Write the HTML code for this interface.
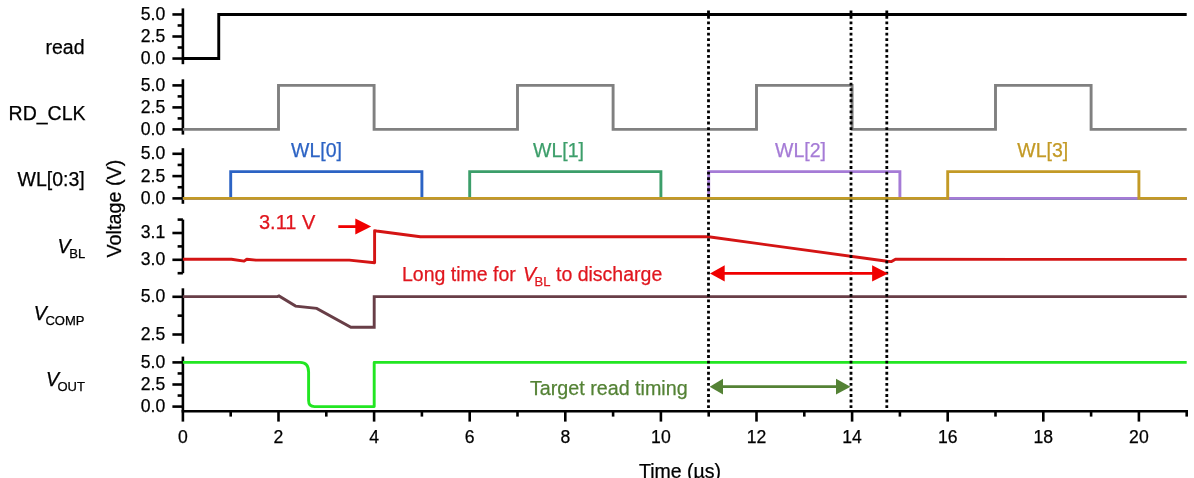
<!DOCTYPE html>
<html><head><meta charset="utf-8"><style>
html,body{margin:0;padding:0;background:#fff;}
body{width:1194px;height:478px;overflow:hidden;}
svg{display:block;will-change:transform;}
text{font-family:"Liberation Sans",sans-serif;}
</style></head><body>
<svg width="1194" height="478" viewBox="0 0 1194 478">
<rect width="1194" height="478" fill="#fff"/>
<g stroke="#000" stroke-width="2.6" stroke-linecap="butt">
<line x1="182.90" y1="8.40" x2="182.90" y2="64.20"/>
<line x1="172.40" y1="14.45" x2="182.90" y2="14.45"/>
<line x1="172.40" y1="36.50" x2="182.90" y2="36.50"/>
<line x1="172.40" y1="58.55" x2="182.90" y2="58.55"/>
<line x1="177.60" y1="25.48" x2="182.90" y2="25.48"/>
<line x1="177.60" y1="47.52" x2="182.90" y2="47.52"/>
<line x1="182.90" y1="79.30" x2="182.90" y2="134.60"/>
<line x1="172.40" y1="85.40" x2="182.90" y2="85.40"/>
<line x1="172.40" y1="107.40" x2="182.90" y2="107.40"/>
<line x1="172.40" y1="129.40" x2="182.90" y2="129.40"/>
<line x1="177.60" y1="96.40" x2="182.90" y2="96.40"/>
<line x1="177.60" y1="118.40" x2="182.90" y2="118.40"/>
<line x1="182.90" y1="148.20" x2="182.90" y2="203.80"/>
<line x1="172.40" y1="153.80" x2="182.90" y2="153.80"/>
<line x1="172.40" y1="176.10" x2="182.90" y2="176.10"/>
<line x1="172.40" y1="198.40" x2="182.90" y2="198.40"/>
<line x1="177.60" y1="164.95" x2="182.90" y2="164.95"/>
<line x1="177.60" y1="187.25" x2="182.90" y2="187.25"/>
<line x1="182.90" y1="219.60" x2="182.90" y2="273.20"/>
<line x1="172.40" y1="233.00" x2="182.90" y2="233.00"/>
<line x1="172.40" y1="259.80" x2="182.90" y2="259.80"/>
<line x1="177.60" y1="219.60" x2="182.90" y2="219.60"/>
<line x1="177.60" y1="246.40" x2="182.90" y2="246.40"/>
<line x1="177.60" y1="273.20" x2="182.90" y2="273.20"/>
<line x1="182.90" y1="288.30" x2="182.90" y2="343.70"/>
<line x1="172.40" y1="296.80" x2="182.90" y2="296.80"/>
<line x1="172.40" y1="334.50" x2="182.90" y2="334.50"/>
<line x1="177.60" y1="315.65" x2="182.90" y2="315.65"/>
<line x1="182.90" y1="356.60" x2="182.90" y2="411.30"/>
<line x1="172.40" y1="362.40" x2="182.90" y2="362.40"/>
<line x1="172.40" y1="384.50" x2="182.90" y2="384.50"/>
<line x1="172.40" y1="406.60" x2="182.90" y2="406.60"/>
<line x1="177.60" y1="373.45" x2="182.90" y2="373.45"/>
<line x1="177.60" y1="395.55" x2="182.90" y2="395.55"/>
<line x1="181.60" y1="411.3" x2="1188.00" y2="411.3"/>
<line x1="182.90" y1="411.3" x2="182.90" y2="421.60"/>
<line x1="230.70" y1="411.3" x2="230.70" y2="416.60"/>
<line x1="278.50" y1="411.3" x2="278.50" y2="421.60"/>
<line x1="326.30" y1="411.3" x2="326.30" y2="416.60"/>
<line x1="374.10" y1="411.3" x2="374.10" y2="421.60"/>
<line x1="421.90" y1="411.3" x2="421.90" y2="416.60"/>
<line x1="469.70" y1="411.3" x2="469.70" y2="421.60"/>
<line x1="517.50" y1="411.3" x2="517.50" y2="416.60"/>
<line x1="565.30" y1="411.3" x2="565.30" y2="421.60"/>
<line x1="613.10" y1="411.3" x2="613.10" y2="416.60"/>
<line x1="660.90" y1="411.3" x2="660.90" y2="421.60"/>
<line x1="708.70" y1="411.3" x2="708.70" y2="416.60"/>
<line x1="756.50" y1="411.3" x2="756.50" y2="421.60"/>
<line x1="804.30" y1="411.3" x2="804.30" y2="416.60"/>
<line x1="852.10" y1="411.3" x2="852.10" y2="421.60"/>
<line x1="899.90" y1="411.3" x2="899.90" y2="416.60"/>
<line x1="947.70" y1="411.3" x2="947.70" y2="421.60"/>
<line x1="995.50" y1="411.3" x2="995.50" y2="416.60"/>
<line x1="1043.30" y1="411.3" x2="1043.30" y2="421.60"/>
<line x1="1091.10" y1="411.3" x2="1091.10" y2="416.60"/>
<line x1="1138.90" y1="411.3" x2="1138.90" y2="421.60"/>
<line x1="1186.70" y1="411.3" x2="1186.70" y2="416.60"/>
</g>
<g>
<polyline points="182.90,58.55 218.75,58.55 218.75,14.45 1186.70,14.45" fill="none" stroke="#000000" stroke-width="2.9" stroke-linejoin="miter" stroke-miterlimit="10" />
<polyline points="182.90,129.40 278.50,129.40 278.50,85.40 374.10,85.40 374.10,129.40 517.50,129.40 517.50,85.40 613.10,85.40 613.10,129.40 756.50,129.40 756.50,85.40 852.10,85.40 852.10,129.40 995.50,129.40 995.50,85.40 1091.10,85.40 1091.10,129.40 1186.70,129.40" fill="none" stroke="#808080" stroke-width="2.9" stroke-linejoin="miter" stroke-miterlimit="10" />
<polyline points="182.90,198.40 230.70,198.40 230.70,171.64 421.90,171.64 421.90,198.40 1186.70,198.40" fill="none" stroke="#2C63C4" stroke-width="2.9" stroke-linejoin="miter" stroke-miterlimit="10" />
<polyline points="182.90,198.40 469.70,198.40 469.70,171.64 660.90,171.64 660.90,198.40 1186.70,198.40" fill="none" stroke="#3C9E6A" stroke-width="2.9" stroke-linejoin="miter" stroke-miterlimit="10" />
<polyline points="182.90,198.40 708.70,198.40 708.70,171.64 899.90,171.64 899.90,198.40 1186.70,198.40" fill="none" stroke="#A57BD6" stroke-width="2.9" stroke-linejoin="miter" stroke-miterlimit="10" />
<polyline points="182.90,198.40 947.70,198.40 947.70,171.64 1138.90,171.64 1138.90,198.40 1186.70,198.40" fill="none" stroke="#C39A26" stroke-width="2.9" stroke-linejoin="miter" stroke-miterlimit="10" />
<polyline points="182.90,259.20 231.40,259.20 244.10,261.10 246.80,259.30 256.00,260.10 349.30,260.10 374.60,262.70 374.60,230.60 376.50,231.00 420.40,236.70 708.50,236.80 887.00,261.20 891.50,261.60 895.50,259.30 1186.70,259.40" fill="none" stroke="#D41414" stroke-width="2.9" stroke-linejoin="round" stroke-miterlimit="10" />
<polyline points="182.90,296.60 277.50,296.60 279.00,295.90 295.60,306.10 316.70,308.40 350.90,327.20 374.20,327.20 374.20,296.60 1186.70,296.60" fill="none" stroke="#683E47" stroke-width="2.9" stroke-linejoin="miter" stroke-miterlimit="10" />
<path d="M182.90,362.40 L300,362.40 Q308.6,362.40 308.6,372 L308.6,400.5 Q308.6,406.60 314.5,406.60 L374.2,406.60 L374.2,362.40 L1186.70,362.40" fill="none" stroke="#22E622" stroke-width="2.9" stroke-linejoin="round"/>
</g>
<g>
<line x1="708.5" y1="10.4" x2="708.5" y2="408.5" stroke="#000" stroke-width="2.8" stroke-dasharray="2.85 2.71"/>
<line x1="851.0" y1="10.4" x2="851.0" y2="408.5" stroke="#000" stroke-width="2.8" stroke-dasharray="2.85 2.71"/>
<line x1="886.8" y1="10.4" x2="886.8" y2="408.5" stroke="#000" stroke-width="2.8" stroke-dasharray="2.85 2.71"/>
</g>
<g>
<line x1="338.30" y1="226.6" x2="356.30" y2="226.6" stroke="#F00000" stroke-width="2.8"/>
<polygon points="371.2,226.6 355.3,218.6 355.3,234.6" fill="#F00000"/>
<line x1="723.70" y1="273.4" x2="873.10" y2="273.4" stroke="#F00000" stroke-width="2.8"/>
<polygon points="710.0,273.4 724.7,265.2 724.7,281.59999999999997" fill="#F00000"/>
<polygon points="888.1,273.4 872.1,265.2 872.1,281.59999999999997" fill="#F00000"/>
<line x1="722.00" y1="386.7" x2="837.00" y2="386.7" stroke="#548235" stroke-width="2.7"/>
<polygon points="709.7,386.7 723.0,378.8 723.0,394.59999999999997" fill="#548235"/>
<polygon points="850.5,386.7 836.0,378.8 836.0,394.59999999999997" fill="#548235"/>
</g>
<g font-size="17.6" fill="#000" stroke="#000" stroke-width="0.25">
<text x="165.30" y="19.85" text-anchor="end">5.0</text>
<text x="165.30" y="41.90" text-anchor="end">2.5</text>
<text x="165.30" y="63.95" text-anchor="end">0.0</text>
<text x="165.30" y="90.80" text-anchor="end">5.0</text>
<text x="165.30" y="112.80" text-anchor="end">2.5</text>
<text x="165.30" y="134.80" text-anchor="end">0.0</text>
<text x="165.30" y="159.20" text-anchor="end">5.0</text>
<text x="165.30" y="181.50" text-anchor="end">2.5</text>
<text x="165.30" y="203.80" text-anchor="end">0.0</text>
<text x="165.30" y="238.40" text-anchor="end">3.1</text>
<text x="165.30" y="265.20" text-anchor="end">3.0</text>
<text x="165.30" y="302.20" text-anchor="end">5.0</text>
<text x="165.30" y="339.90" text-anchor="end">2.5</text>
<text x="165.30" y="367.80" text-anchor="end">5.0</text>
<text x="165.30" y="389.90" text-anchor="end">2.5</text>
<text x="165.30" y="412.00" text-anchor="end">0.0</text>
<text x="182.90" y="443.20" text-anchor="middle">0</text>
<text x="278.50" y="443.20" text-anchor="middle">2</text>
<text x="374.10" y="443.20" text-anchor="middle">4</text>
<text x="469.70" y="443.20" text-anchor="middle">6</text>
<text x="565.30" y="443.20" text-anchor="middle">8</text>
<text x="660.90" y="443.20" text-anchor="middle">10</text>
<text x="756.50" y="443.20" text-anchor="middle">12</text>
<text x="852.10" y="443.20" text-anchor="middle">14</text>
<text x="947.70" y="443.20" text-anchor="middle">16</text>
<text x="1043.30" y="443.20" text-anchor="middle">18</text>
<text x="1138.90" y="443.20" text-anchor="middle">20</text>
</g>
<g font-size="19.5" fill="#000" stroke="#000" stroke-width="0.25">
<text x="84.5" y="53.7" text-anchor="end">read</text>
<text x="85.5" y="120.0" text-anchor="end">RD_CLK</text>
<text x="84.7" y="186.4" text-anchor="end">WL[0:3]</text>
<text x="57.5" y="252.6" font-style="italic">V</text><text x="69.3" y="257.60" font-size="13">BL</text>
<text x="33.7" y="319.6" font-style="italic">V</text><text x="45.4" y="324.60" font-size="13">COMP</text>
<text x="46.1" y="385.7" font-style="italic">V</text><text x="57.4" y="390.70" font-size="13">OUT</text>
<text transform="translate(121.2,257.6) rotate(-90)" x="0" y="0" font-size="19.8">Voltage (V)</text>
<text x="680" y="478" text-anchor="middle">Time (µs)</text>
<text x="291" y="156.6" fill="#2C63C4" stroke="#2C63C4">WL[0]</text>
<text x="533" y="156.6" fill="#3C9E6A" stroke="#3C9E6A">WL[1]</text>
<text x="775" y="156.6" fill="#A57BD6" stroke="#A57BD6">WL[2]</text>
<text x="1017.3" y="156.6" fill="#C39A26" stroke="#C39A26">WL[3]</text>
<text x="259" y="229.2" fill="#E0161E" stroke="#E0161E" font-size="20">3.11 V</text>
<text x="402" y="280.5" fill="#E0161E" stroke="#E0161E">Long time for </text>
<text x="523" y="280.5" font-style="italic" fill="#E0161E" stroke="#E0161E">V</text><text x="534.5" y="285.50" font-size="13" fill="#E0161E" stroke="#E0161E">BL</text>
<text x="556" y="280.5" fill="#E0161E" stroke="#E0161E">to discharge</text>
<text x="530" y="394.6" fill="#548235" stroke="#548235" font-size="19.7">Target read timing</text>
</g>
</svg>
</body></html>
